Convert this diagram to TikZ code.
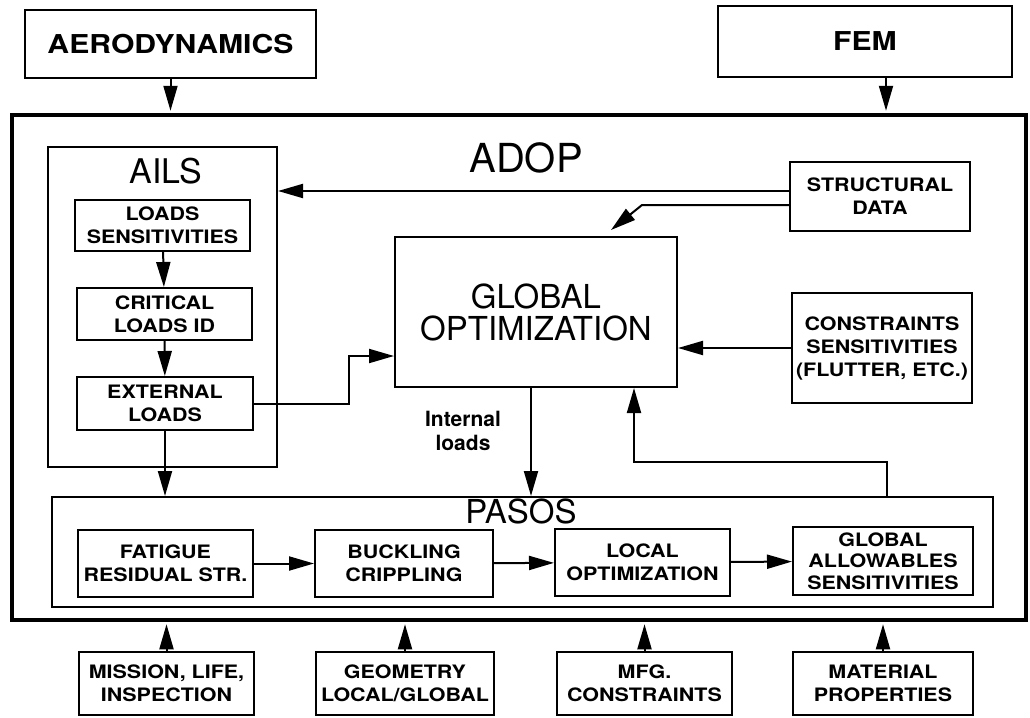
\documentclass[tikz,border=0pt]{standalone}
\usepackage{fontspec}
\setmainfont{TeX Gyre Heros}
\newfontfamily\boxfont{TeX Gyre Heros}[FakeStretch=1.16]
\usetikzlibrary{calc,positioning,arrows.meta}

\tikzset{
  box/.style={draw,line width=2pt,inner sep=0pt,align=center,font=\boxfont\fontsize{18.5}{23}\selectfont\bfseries},
  title/.style={font=\fontsize{#1}{#1}\selectfont},
  arr/.style={line width=2pt,-{Triangle[length=25pt,width=14pt]}},
}

\begin{document}
\begin{tikzpicture}[x=1pt,y=-1pt]
  \useasboundingbox (0,0) rectangle (1030,717);
  % outer frames
  \node[draw,line width=4.5pt,minimum width=1014pt,minimum height=505pt] (adop) at (519,367.5) {};
  \node[title=40] at (526,158) {ADOP};
  \node[draw,line width=2pt,minimum width=229pt,minimum height=320pt] (ails) at (162.5,307) {};
  \node[title=34] at (166,171) {AILS};
  \node[draw,line width=2pt,minimum width=941pt,minimum height=110pt] (pasos) at (522.5,552) {};
  \node[title=33] at (521,511) {PASOS};
  % top inputs
  \node[box,line width=1.5pt,font=\boxfont\fontsize{26}{26}\selectfont\bfseries,minimum width=291pt,minimum height=68pt] (aero) at (170.5,44) {AERODYNAMICS};
  \node[box,line width=1.5pt,font=\boxfont\fontsize{26}{26}\selectfont\bfseries,minimum width=294pt,minimum height=71pt] (fem) at (865,41.5) {FEM};
  % AILS
  \node[box,minimum width=175pt,minimum height=51pt] (lsens) at (162.5,225.5) {LOADS\\SENSITIVITIES};
  \node[box,minimum width=175pt,minimum height=52pt] (crit) at (164.5,314) {CRITICAL\\LOADS ID};
  \node[box,minimum width=176pt,minimum height=53pt] (ext) at (165,403.5) {EXTERNAL\\LOADS};
  % ADOP
  \node[box,font=\fontsize{33}{32}\selectfont,minimum width=282pt,minimum height=150pt] (glob) at (536,312) {GLOBAL\\OPTIMIZATION};
  \node[box,minimum width=180pt,minimum height=69pt] (struct) at (880,196.5) {STRUCTURAL\\DATA};
  \node[box,minimum width=180pt,minimum height=110pt] (cons) at (882,348) {CONSTRAINTS\\SENSITIVITIES\\(FLUTTER, ETC.)};
  \node[align=center,font=\fontsize{21}{24}\selectfont\bfseries] (intl) at (463,431) {Internal\\loads};
  % PASOS
  \node[box,minimum width=175pt,minimum height=67pt] (fat) at (165.5,563.5) {FATIGUE\\RESIDUAL STR.};
  \node[box,minimum width=178pt,minimum height=67pt] (buck) at (404,563.5) {BUCKLING\\CRIPPLING};
  \node[box,minimum width=175pt,minimum height=67pt] (locopt) at (642.5,562.5) {LOCAL\\OPTIMIZATION};
  \node[box,font=\boxfont\fontsize{18.5}{21.5}\selectfont\bfseries,minimum width=180pt,minimum height=68pt] (gallow) at (883,561) {GLOBAL\\ALLOWABLES\\SENSITIVITIES};
  % bottom inputs
  \foreach \n/\x/\w/\t in {mis/166.5/175/{MISSION, LIFE,\\INSPECTION},geo/405/178/{GEOMETRY\\LOCAL/GLOBAL},
                           mfg/644.5/175/{MFG.\\CONSTRAINTS},mat/883/180/{MATERIAL\\PROPERTIES}}{
    \node[box,minimum width=\w pt,minimum height=63pt] (\n) at (\x,683.5) {\t};
    \draw[arr] (\n) -- ($(\n.north |- adop.south)+(0,2)$);
  }
  % connectors
  \draw[arr] (aero) -- ($(aero.south |- adop.north)+(0,-2)$);
  \draw[arr] ([xshift=21pt]fem.south) -- ($([xshift=21pt]fem.south |- adop.north)+(0,-2)$);
  \draw[arr] (lsens) -- (crit);
  \draw[arr] (crit) -- (ext);
  \draw[arr] (ext) -- (ext.south |- pasos.north);
  \draw[arr] (ext.east) -- ++(95,0) |- ([yshift=-44pt]glob.west);
  \draw[arr] ([yshift=5.5pt]struct.west) -- ([yshift=5.5pt]struct.west -| ails.east);
  \draw[arr] ([yshift=-8.5pt]struct.west) -- ++(-147,0) -- ++(-31,25);
  \draw[arr] (cons.west) -- (cons.west -| glob.east);
  \draw[arr] ([xshift=-5pt]glob.south) -- ([xshift=-5pt]glob.south |- pasos.north);
  \draw[arr] ([xshift=364.5pt]pasos.north) -- ++(0,-34) -| ([xshift=98pt]glob.south);
  \draw[arr] (fat) -- (buck);
  \draw[arr] (buck) -- (locopt);
  \draw[arr] (locopt) -- (gallow);
\end{tikzpicture}
\end{document}
